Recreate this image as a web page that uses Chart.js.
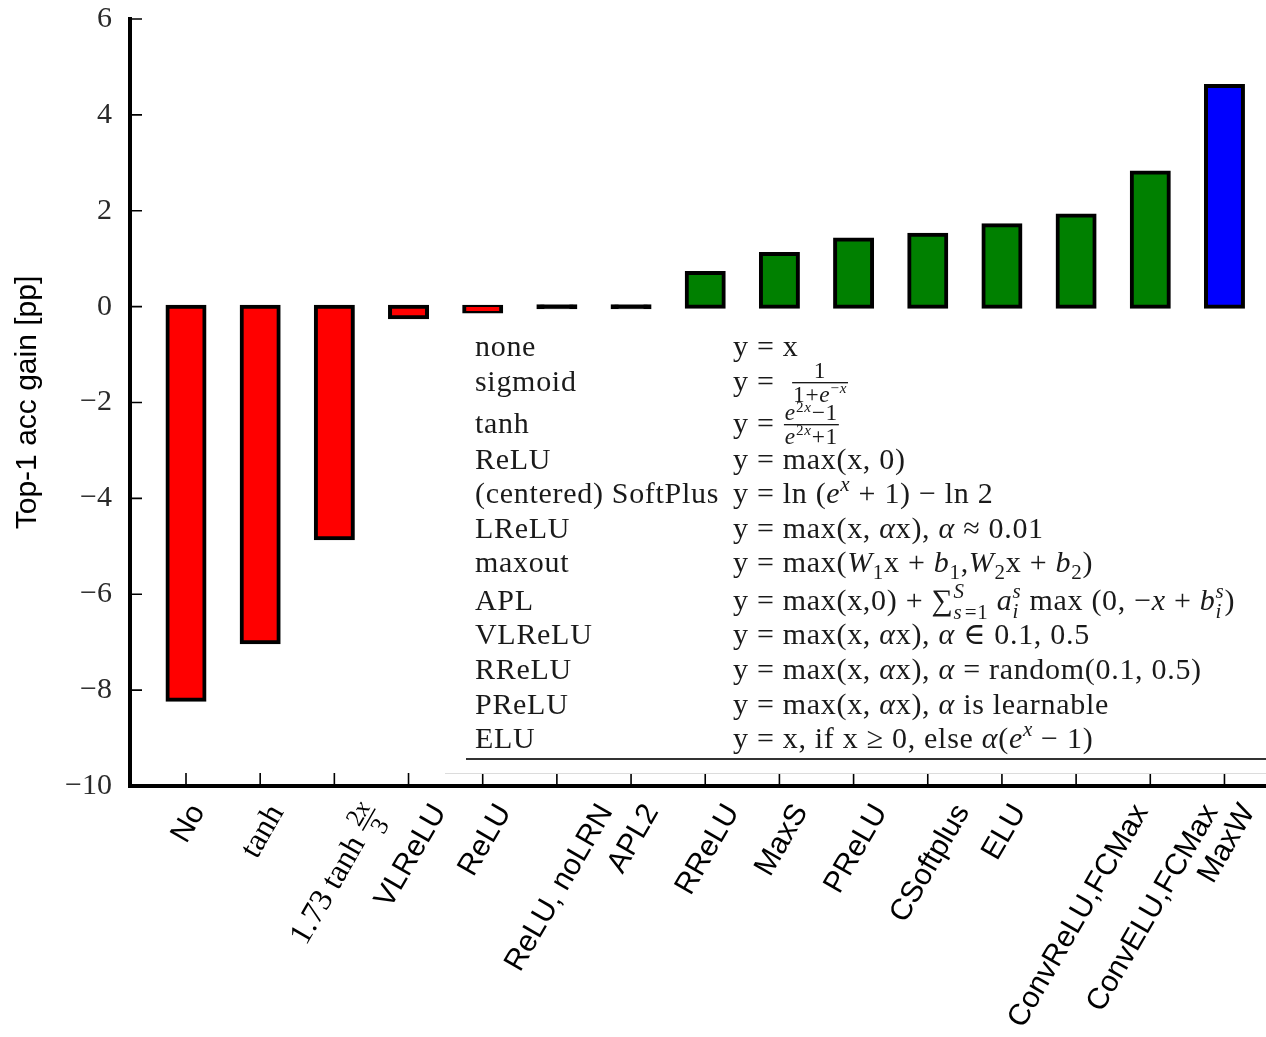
<!DOCTYPE html>
<html>
<head>
  <title>Top-1 acc gain</title>
  <script src="https://cdn.jsdelivr.net/npm/chart.js"></script>
  <style>
    html, body { margin: 0; padding: 0; background: #fff; }
  </style>
</head>
<body>
  <canvas id="chart" width="1266" height="1037"></canvas>

  <script>
    // data
    const categories = ["No", "tanh", "1.73 tanh 2x/3", "VLReLU", "ReLU", "ReLU, noLRN", "APL2",
      "RReLU", "MaxS", "PReLU", "CSoftplus", "ELU", "ConvReLU,FCMax", "ConvELU,FCMax", "MaxW"];
    const gains = [-8.2, -7.0, -4.83, -0.22, -0.1, 0, 0, 0.7, 1.1, 1.4, 1.5, 1.7, 1.9, 2.8, 4.6];
    const yTicks = [-10, -8, -6, -4, -2, 0, 2, 4, 6];
    // zero-height bars only show their black outline
    const barColors = ["red", "red", "red", "red", "red", "#000", "#000",
      "green", "green", "green", "green", "green", "green", "green", "blue"];

    // small rich-text pieces: s = text, it = italic, sc = scale, dy = baseline shift (em), stack = same x as previous
    const T = (s, o) => Object.assign({ s }, o || {});
    const up = { sc: 0.7, dy: -0.4 }, dn = { sc: 0.7, dy: 0.22 };
    const upI = Object.assign({ it: true }, up);
    const fup = { sc: 0.65, dy: -0.36 }, fupI = Object.assign({ it: true }, fup);
    const mathLabels = {
      1: [T("tanh")],
      2: [T("1.73 tanh "), { num: [T("2"), T("x", { it: true })], den: [T("3")] }]
    };

    const tableNames = ["none", "sigmoid", "tanh", "ReLU", "(centered) SoftPlus", "LReLU", "maxout",
      "APL", "VLReLU", "RReLU", "PReLU", "ELU"];
    const tableFormulas = [
      [T("y = x")],
      [T("y =  "), { num: [T("1")], den: [T("1+"), T("e", { it: true }), T("−", fup), T("x", fupI)] }],
      [T("y = "), { num: [T("e", { it: true }), T("2", fup), T("x", fupI), T("−1")],
                    den: [T("e", { it: true }), T("2", fup), T("x", fupI), T("+1")] }],
      [T("y = max(x, 0)")],
      [T("y = ln ("), T("e", { it: true }), T("x", upI), T(" + 1) − ln 2")],
      [T("y = max(x, "), T("α", { it: true }), T("x), "), T("α", { it: true }), T(" ≈ 0.01")],
      [T("y = max("), T("W", { it: true }), T("1", dn), T("x + "), T("b", { it: true }), T("1", dn), T(","),
       T("W", { it: true }), T("2", dn), T("x + "), T("b", { it: true }), T("2", dn), T(")")],
      [T("y = max(x,0) + "), T("∑"), T("S", upI), T("s", { it: true, stack: true, sc: 0.7, dy: 0.3 }),
       T("=1", { sc: 0.7, dy: 0.3 }), T(" "), T("a", { it: true }), T("s", upI),
       T("i", { it: true, stack: true, sc: 0.7, dy: 0.25 }), T(" max (0, −"), T("x", { it: true }), T(" + "),
       T("b", { it: true }), T("s", upI), T("i", { it: true, stack: true, sc: 0.7, dy: 0.25 }), T(")")],
      [T("y = max(x, "), T("α", { it: true }), T("x), "), T("α", { it: true }), T(" ∈ 0.1, 0.5")],
      [T("y = max(x, "), T("α", { it: true }), T("x), "), T("α", { it: true }), T(" = random(0.1, 0.5)")],
      [T("y = max(x, "), T("α", { it: true }), T("x), "), T("α", { it: true }), T(" is learnable")],
      [T("y = x, if x ≥ 0, else "), T("α", { it: true }), T("("), T("e", { it: true }),
       T("x", upI), T(" − 1)")]
    ];
    const tableRowCenters = [348, 383, 425, 461, 495, 530, 564, 602, 636, 671, 706, 740];

    const SERIF = "'Liberation Serif', 'DejaVu Serif', serif";
    const SANS = "'Liberation Sans', Arial, sans-serif";

    function rich(ctx, segs, x0, y, fs, fam, draw) {
      let x = x0, prevStart = x0, prevEnd = x0;
      for (const g of segs) {
        if (g.num) {
          const f = fs * 0.78;
          const wn = rich(ctx, g.num, 0, 0, f, fam, false);
          const wd = rich(ctx, g.den, 0, 0, f, fam, false);
          const w = Math.max(wn, wd) + fs * 0.14;
          if (draw) {
            rich(ctx, g.num, x + (w - wn) / 2, y - fs * 0.42, f, fam, true);
            rich(ctx, g.den, x + (w - wd) / 2, y + fs * 0.36, f, fam, true);
            ctx.fillRect(x + fs * 0.04, y - fs * 0.3, w - fs * 0.08, Math.max(1, fs * 0.045));
          }
          prevStart = x; x += w; prevEnd = x;
          continue;
        }
        const size = fs * (g.sc || 1);
        ctx.font = (g.it ? "italic " : "") + size + "px " + fam;
        const w = ctx.measureText(g.s).width;
        const sx = g.stack ? prevStart : x;
        if (draw) ctx.fillText(g.s, sx, y + (g.dy || 0) * fs);
        if (g.stack) { x = Math.max(prevEnd, sx + w); prevEnd = x; }
        else { prevStart = x; x += w; prevEnd = x; }
      }
      return x - x0;
    }

    const overlay = {
      id: "overlay",
      afterDraw(chart) {
        const ctx = chart.ctx, xs = chart.scales.x, ys = chart.scales.y, area = chart.chartArea;
        ctx.save();
        ctx.strokeStyle = "#000";
        ctx.lineWidth = 1.6;
        // inward tick marks
        ctx.beginPath();
        yTicks.forEach(v => {
          const py = ys.getPixelForValue(v);
          ctx.moveTo(area.left, py); ctx.lineTo(area.left + 12, py);
        });
        categories.forEach((c, i) => {
          const px = xs.getPixelForValue(i);
          ctx.moveTo(px, area.bottom); ctx.lineTo(px, area.bottom - 13);
        });
        ctx.stroke();

        // rotated category labels, box centred under the tick
        const th = 60 * Math.PI / 180, yTop = area.bottom + 14;
        ctx.fillStyle = "#000";
        ctx.textBaseline = "alphabetic";
        ctx.textAlign = "left";
        categories.forEach((c, i) => {
          const math = mathLabels[i];
          const segs = math || [T(c)];
          const fam = math ? SERIF : SANS;
          const fs = math ? 32 : 30;
          const w = rich(ctx, segs, 0, 0, fs, fam, false);
          const h = fs * 0.75;
          const bh = w * Math.sin(th) + h * Math.cos(th);
          ctx.save();
          ctx.translate(xs.getPixelForValue(i), yTop + bh / 2);
          ctx.rotate(-th);
          rich(ctx, segs, -w / 2, h / 2, fs, fam, true);
          ctx.restore();
        });

        // activation function table
        const tfs = 30;
        ctx.fillStyle = "#1a1a1a";
        ctx.letterSpacing = "0.7px";
        tableNames.forEach((n, i) => {
          const base = tableRowCenters[i] + 8;
          rich(ctx, [T(n)], 475, base, tfs, SERIF, true);
          rich(ctx, tableFormulas[i], 733, base, tfs, SERIF, true);
        });
        ctx.letterSpacing = "0px";
        ctx.strokeStyle = "#333";
        ctx.lineWidth = 2;
        ctx.beginPath();
        ctx.moveTo(466, 759); ctx.lineTo(area.right, 759);
        ctx.stroke();
        ctx.strokeStyle = "#dcdcdc";
        ctx.lineWidth = 1;
        ctx.beginPath();
        ctx.moveTo(445, 773.5); ctx.lineTo(area.right, 773.5);
        ctx.stroke();
        ctx.restore();
      }
    };

    const ctx = document.getElementById("chart").getContext("2d");
    new Chart(ctx, {
      type: "bar",
      data: {
        datasets: [{
          data: gains.map((v, i) => ({ x: i, y: v })),
          backgroundColor: barColors,
          borderColor: "#000",
          borderWidth: 4,
          borderSkipped: false,
          inflateAmount: 2,
          barThickness: 37,
          minBarLength: 1
        }]
      },
      options: {
        responsive: false,
        animation: false,
        layout: { padding: { top: 19, right: 0, left: 0, bottom: 0 } },
        plugins: { legend: { display: false }, tooltip: { enabled: false } },
        scales: {
          x: {
            type: "linear",
            offset: false,
            min: -0.755,
            max: 14.56,
            grid: { display: false },
            border: { display: true, color: "#000", width: 4 },
            ticks: { display: false },
            afterBuildTicks: s => { s.ticks = categories.map((c, i) => ({ value: i })); },
            afterFit: s => { s.height = 251; s.paddingLeft = 0; s.paddingRight = 0; }
          },
          y: {
            min: -10,
            max: 6,
            afterBuildTicks: s => { s.ticks = yTicks.map(v => ({ value: v })); },
            ticks: {
              font: { family: SERIF, size: 30 },
              color: "#2a2a2a",
              padding: 10,
              callback: v => String(v).replace("-", "\u2212")
            },
            grid: { display: false },
            border: { display: true, color: "#000", width: 4 },
            title: {
              display: true,
              text: "Top-1 acc gain [pp]",
              font: { family: SANS, size: 30 },
              color: "#000",
              padding: { top: 10, bottom: 0 }
            },
            afterFit: s => { s.width = 130; s.paddingTop = 0; s.paddingBottom = 0; }
          }
        }
      },
      plugins: [overlay]
    });
  </script>
</body>
</html>
